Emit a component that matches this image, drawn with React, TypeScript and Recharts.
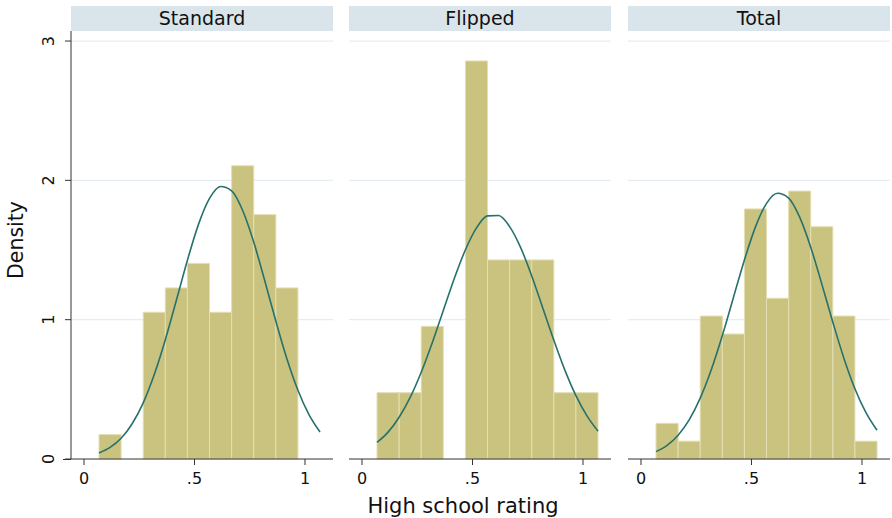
import { ComposedChart, Line, XAxis, YAxis, CartesianGrid, ReferenceArea } from "recharts";

// histogram bins (left edges), width 0.1
const binStarts = [0.068, 0.168, 0.268, 0.368, 0.468, 0.568, 0.668, 0.768, 0.868, 0.968];
const BIN_WIDTH = 0.1;

const standardDensity = [0.175, 0, 1.053, 1.228, 1.404, 1.053, 2.105, 1.754, 1.228, 0];
const flippedDensity = [0.476, 0.476, 0.952, 0, 2.857, 1.429, 1.429, 1.429, 0.476, 0.476];
const totalDensity = [0.256, 0.128, 1.026, 0.897, 1.795, 1.154, 1.923, 1.667, 1.026, 0.128];

// normal density overlay
const curveX = [
  0.068, 0.118, 0.168, 0.218, 0.268, 0.318, 0.368, 0.418, 0.468, 0.518, 0.568,
  0.618, 0.668, 0.718, 0.768, 0.818, 0.868, 0.918, 0.968, 1.018, 1.068,
];
const standardCurve = [
  0.043, 0.083, 0.149, 0.253, 0.403, 0.606, 0.856, 1.139, 1.427, 1.684, 1.87,
  1.956, 1.925, 1.784, 1.557, 1.279, 0.99, 0.72, 0.494, 0.319, 0.194,
];
const flippedCurve = [
  0.119, 0.193, 0.3, 0.442, 0.623, 0.835, 1.066, 1.297, 1.502, 1.659, 1.745,
  1.748, 1.668, 1.517, 1.314, 1.084, 0.853, 0.638, 0.455, 0.31, 0.2,
];
const totalCurve = [
  0.053, 0.098, 0.171, 0.281, 0.437, 0.64, 0.886, 1.158, 1.429, 1.666, 1.835,
  1.907, 1.873, 1.736, 1.52, 1.257, 0.982, 0.724, 0.504, 0.332, 0.206,
];

const panelTitles = ["Standard", "Flipped", "Total"];
const xTicks = [0, 0.5, 1];
const yTicks = [0, 1, 2, 3];

const FONT = "'DejaVu Sans', sans-serif";
const BAR_FILL = "#cac37f";
const BAR_EDGE = "#e3deb3";
const CURVE = "#26716c";
const AXIS = "#333";
const GRID = "#e4eef2";
const STRIP = "#d9e5eb";

const PANEL_LEFT = [71, 349, 628];
const PANEL_W = 262;

function fmtX(v: number): string {
  if (v === 0) return "0";
  if (v === 1) return "1";
  return String(v).replace(/^0/, "");
}

function YTick(props: any) {
  const { x, y, payload } = props;
  const tx = x - 9;
  return (
    <text
      x={tx}
      y={y}
      transform={`rotate(-90 ${tx} ${y})`}
      textAnchor="middle"
      fontSize={16}
      fontFamily={FONT}
      fill="#111"
    >
      {payload.value}
    </text>
  );
}

function Panel({ idx, density, curve }: { idx: number; density: number[]; curve: number[] }) {
  const first = idx === 0;
  const data = curveX.map((x, i) => ({ x, y: curve[i] }));
  const yAxisW = first ? 71 : 0;
  return (
    <div style={{ position: "absolute", left: PANEL_LEFT[idx] - yAxisW, top: 0 }}>
      <ComposedChart
        width={PANEL_W + yAxisW}
        height={518}
        data={data}
        margin={{ top: 31, right: 0, bottom: 29, left: 0 }}
      >
        <CartesianGrid vertical={false} horizontalValues={[1, 2, 3]} stroke={GRID} strokeWidth={1.2} />
        <XAxis
          type="number"
          dataKey="x"
          domain={[-0.0588, 1.1267]}
          allowDataOverflow
          ticks={xTicks}
          tickFormatter={fmtX}
          height={30}
          tickSize={6}
          tickMargin={8}
          stroke={AXIS}
          tick={{ fill: "#111", fontSize: 16, fontFamily: FONT }}
        />
        <YAxis
          type="number"
          domain={[0, 3.072]}
          allowDataOverflow
          ticks={yTicks}
          hide={!first}
          width={yAxisW}
          tickSize={6}
          stroke={AXIS}
          tick={<YTick />}
        />
        {binStarts.map((b, i) =>
          density[i] > 0 ? (
            <ReferenceArea
              key={i}
              x1={b}
              x2={b + BIN_WIDTH}
              y1={0}
              y2={density[i]}
              fill={BAR_FILL}
              fillOpacity={1}
              stroke={BAR_EDGE}
              strokeWidth={1}
            />
          ) : null
        )}
        <Line
          type="monotone"
          dataKey="y"
          stroke={CURVE}
          strokeWidth={1.6}
          dot={false}
          isAnimationActive={false}
        />
      </ComposedChart>
      <div
        style={{
          position: "absolute",
          left: yAxisW,
          top: 6,
          width: PANEL_W,
          height: 25,
          background: STRIP,
          fontFamily: FONT,
          fontSize: 19,
          lineHeight: "25px",
          textAlign: "center",
          color: "#111",
        }}
      >
        {panelTitles[idx]}
      </div>
    </div>
  );
}

export default function App() {
  return (
    <div
      style={{
        position: "absolute",
        left: 0,
        top: 0,
        width: 892,
        height: 518,
        background: "#fff",
        overflow: "hidden",
      }}
    >
      <Panel idx={0} density={standardDensity} curve={standardCurve} />
      <Panel idx={1} density={flippedDensity} curve={flippedCurve} />
      <Panel idx={2} density={totalDensity} curve={totalCurve} />
      {/* x axis line sticks out a little to the left of the y axis */}
      <div style={{ position: "absolute", left: 63, top: 459, width: 8, height: 1, background: AXIS }} />
      <svg width={892} height={518} style={{ position: "absolute", left: 0, top: 0, pointerEvents: "none" }}>
        <text
          x={23}
          y={240}
          transform="rotate(-90 23 240)"
          textAnchor="middle"
          fontSize={20.5}
          fontFamily={FONT}
          fill="#111"
        >
          Density
        </text>
        <text x={463} y={513} textAnchor="middle" fontSize={21} fontFamily={FONT} fill="#111">
          High school rating
        </text>
      </svg>
    </div>
  );
}
